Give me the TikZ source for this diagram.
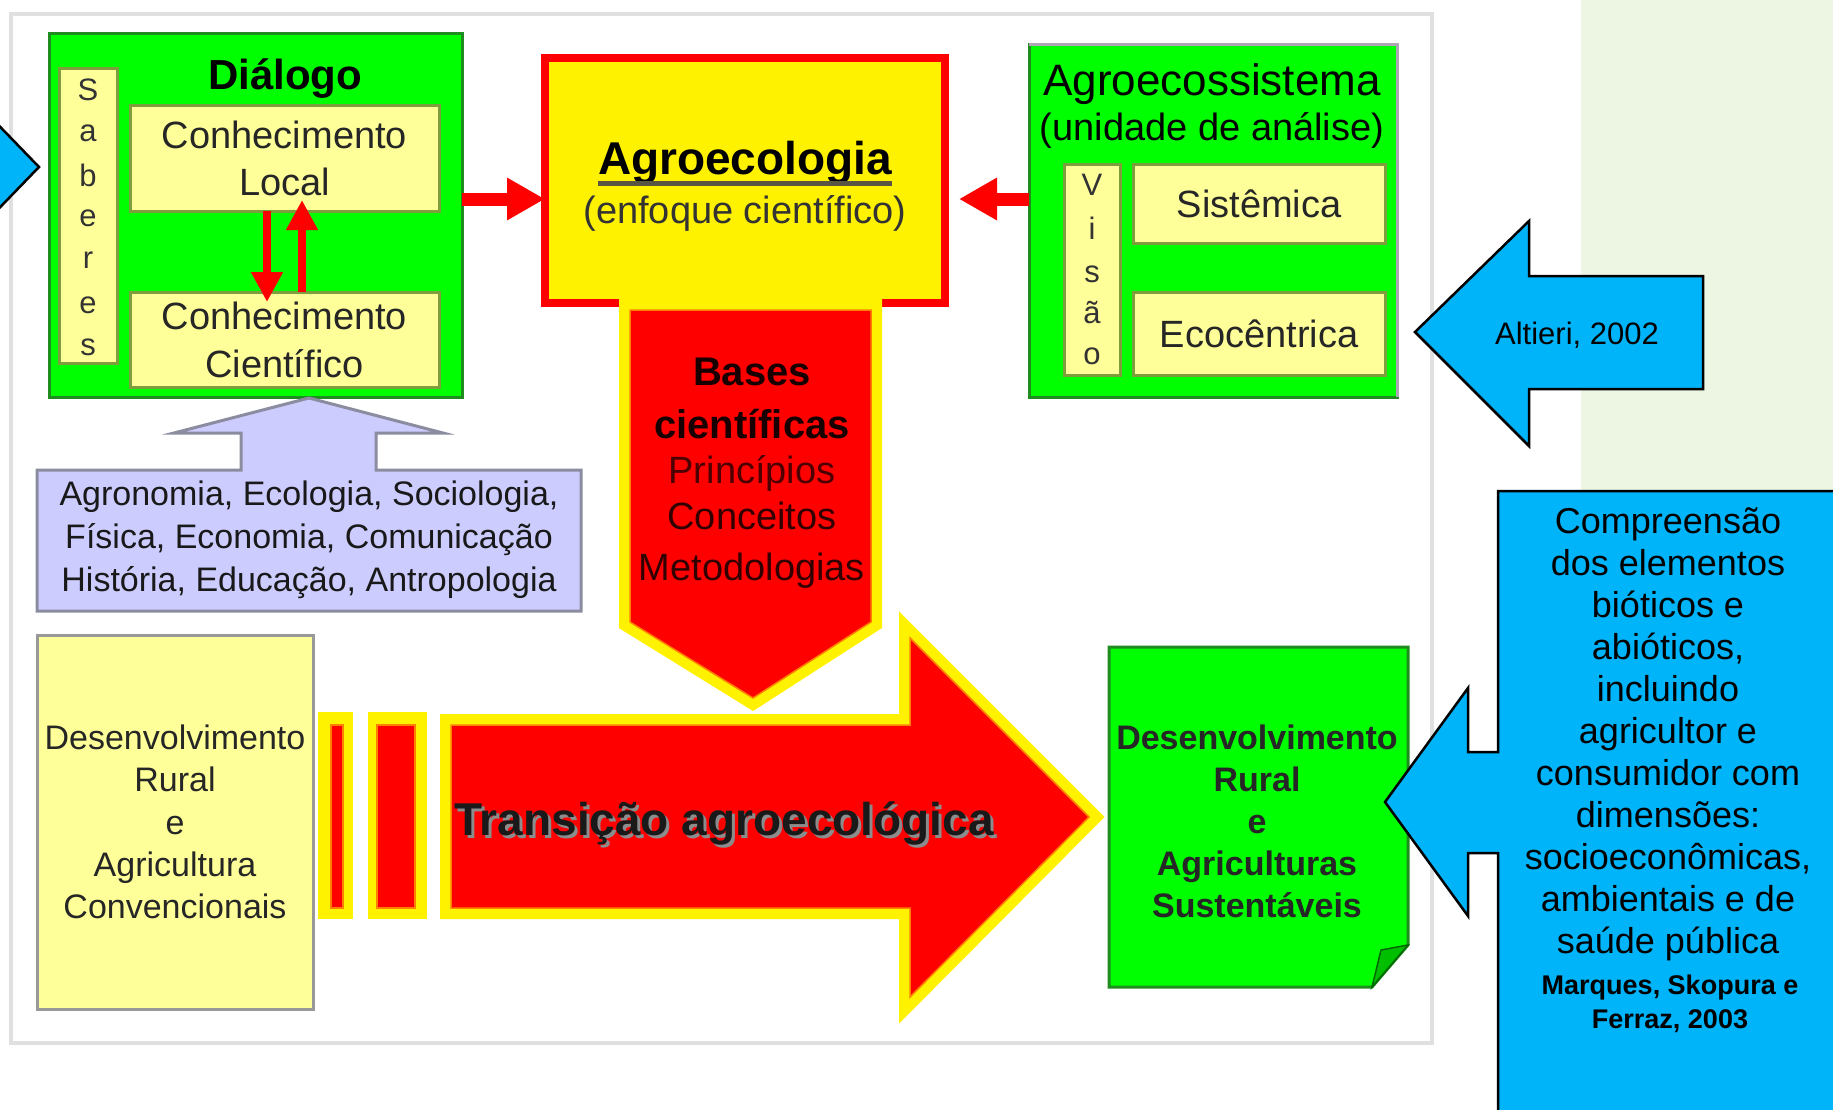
\documentclass[tikz,border=0pt]{standalone}
\usepackage{fontspec}
\setmainfont{Liberation Sans}
\usetikzlibrary{arrows.meta,calc}
\newcommand\fsz[2]{\fontsize{#1}{#2}\selectfont}
\definecolor{gfill}{HTML}{00FF00}
\definecolor{gline}{HTML}{1E8C1E}
\definecolor{lyel}{HTML}{FFFF99}
\definecolor{oline}{HTML}{7E9E3E}
\definecolor{lav}{HTML}{CCCCFF}
\definecolor{lavline}{HTML}{8C8CA0}
\definecolor{cblue}{RGB}{0,180,250}
\definecolor{bggreen}{HTML}{EDF6E2}
\definecolor{orline}{HTML}{FF8000}
\definecolor{ecoline}{HTML}{ADA5B5}
\begin{document}
\begin{tikzpicture}[x=1pt,y=-1pt,
  txt/.style={inner sep=0pt, outer sep=0pt, align=center, text=black},
  ybox/.style={rectangle, fill=lyel, draw=oline, line width=3pt, inner sep=0pt, outer sep=0pt, align=center, text=black!85},
  letter/.style={inner sep=0pt, outer sep=0pt, font=\fsz{31}{31}, text=black!80},
  redarrow/.style={draw=red, line width=8pt, -{Triangle[width=30pt,length=30pt]}},
  redbig/.style={draw=red, line width=13pt, -{Triangle[width=40pt,length=38pt]}},
  bluearrow/.style={fill=cblue, draw=black, line width=2.5pt, line join=miter},
  yelframe/.style={fill=yellow, draw=yellow, line width=22pt, line join=miter},
  redbody/.style={fill=red, draw=orline, line width=1.5pt}]
\useasboundingbox (0,0) rectangle (1833,1109);
\fill[white] (0,0) rectangle (1833,1109);
\fill[bggreen] (1581,0) rectangle (1833,1109);
\draw[draw=black!12, line width=4pt] (11,14) rectangle (1432,1043);

% left blue arrow tip
\draw[bluearrow] (-20,106) -- (39,167) -- (-20,228) -- cycle;

% Dialogo
\node[rectangle, fill=gfill, draw=gline, line width=3pt, minimum width=413pt, minimum height=364pt, outer sep=0pt] (dlg) at (255.5,215) {};
\node[txt, font={\bfseries\fsz{42}{42}}, anchor=base] (dlgt) at (285,89) {Diálogo};
\node[ybox, minimum width=58pt, minimum height=295pt] (sab) at (88,215.5) {};
\foreach \ch/\yy [count=\i] in {S/90, a/133, b/175, e/218, r/260, e/305, s/347}
  \node[letter] (sab\i) at (88,\yy) {\ch};
\node[ybox, minimum width=309pt, minimum height=106pt, font=\fsz{38}{47}] (cl) at (284.5,158) {Conhecimento\\Local};
\node[ybox, minimum width=309pt, minimum height=95pt, font=\fsz{38}{48}] (cc) at (284.5,339.5) {Conhecimento\\Científico};
\draw[redarrow] ($(cl.south)+(-17.5,0)$) -- ($(cc.north)+(-17.5,10)$);
\draw[redarrow] ($(cc.north)+(17.5,0)$) -- ($(cl.south)+(17.5,-11)$);

% Agroecologia
\node[rectangle, fill=yellow, draw=red, line width=8pt, minimum width=400pt, minimum height=245pt, outer sep=0pt] (agro) at (745,180.5) {};
\node[txt, font={\bfseries\fsz{46}{46}}, anchor=base] (agrot) at (745,174) {Agroecologia};
\draw[line width=5pt, draw=black!75!yellow] ($(agrot.base west)+(0,9)$) -- ($(agrot.base east)+(0,9)$);
\node[txt, font=\fsz{38}{38}, anchor=base, text=black!80] (agros) at (745,223) {(enfoque científico)};

\coordinate (ay) at (0,199);
\draw[redbig] (dlg.east |- ay) -- (agro.west |- ay);

% Agroecossistema
\node[rectangle, fill=gfill, draw=gline, line width=3pt, minimum width=368pt, minimum height=353pt, outer sep=0pt] (eco) at (1213,220.5) {};
\draw[draw=ecoline, line width=3pt] (eco.north west) -- (eco.north east) -- (eco.south east);
\node[txt, font=\fsz{44}{44}, anchor=base] (ecot) at (1212,95) {Agroecossistema};
\node[txt, font=\fsz{38}{38}, anchor=base] (ecos) at (1212,140) {(unidade de análise)};
\node[ybox, minimum width=56pt, minimum height=211pt] (vis) at (1092,269.5) {};
\foreach \ch/\yy [count=\i] in {V/185, i/228, s/274, ã/313, o/356}
  \node[letter] (vis\i) at (1092,\yy) {\ch};
\node[ybox, minimum width=252pt, minimum height=79pt, font=\fsz{38}{38}] (sis) at (1259,203.5) {Sistêmica};
\node[ybox, minimum width=252pt, minimum height=83pt, font=\fsz{38}{38}] (ecc) at (1259,333.5) {Ecocêntrica};
\draw[redbig] (eco.west |- ay) -- ($(agro.east |- ay)+(14,0)$);

% Bases cientificas (down arrow)
\path[yelframe] (630,310) -- (871,310) -- (871,622) -- (753,698) -- (630,622) -- cycle;
\path[redbody] (630,310) -- (871,310) -- (871,622) -- (753,698) -- (630,622) -- cycle;
\node[txt, font={\bfseries\fsz{40}{40}}, anchor=base, text=black!90!red] (bas1) at (752,385) {Bases};
\node[txt, font={\bfseries\fsz{40}{40}}, anchor=base, text=black!90!red] (bas2) at (752,438) {científicas};
\node[txt, font=\fsz{38}{38}, anchor=base, text=red!30!black] (bas3) at (752,483) {Princípios};
\node[txt, font=\fsz{38}{38}, anchor=base, text=red!20!black] (bas4) at (752,529) {Conceitos};
\node[txt, font=\fsz{38}{38}, anchor=base, text=red!20!black] (bas5) at (752,580) {Metodologias};

% lavender up arrow with disciplines
\draw[fill=lav, draw=lavline, line width=3pt, line join=miter] (37,470) -- (241,470) -- (241,433) -- (174,433) -- (309,398) -- (443,433) -- (376,433) -- (376,470) -- (581,470) -- (581,611) -- (37,611) -- cycle;
\node[txt, font=\fsz{34}{43}, anchor=north, text=black!90] (disc) at (309,481) {Agronomia, Ecologia, Sociologia,\\Física, Economia, Comunicação\\História, Educação, Antropologia};

% conventional box
\node[rectangle, fill=lyel, draw=black!40, line width=3pt, minimum width=276pt, minimum height=374pt, outer sep=0pt, inner sep=0pt, font=\fsz{34}{42.3}, align=center, text=black!85] (conv) at (175,822) {Desenvolvimento\\Rural\\e\\Agricultura\\Convencionais};

% bars
\fill[yellow] (318,712) rectangle (353,919);
\path[redbody] (331,725) rectangle (343,908);
\fill[yellow] (368,712) rectangle (427,919);
\path[redbody] (377,725) rectangle (415,908);

% big transition arrow
\path[yelframe] (451,725) -- (910,725) -- (910,638) -- (1089,817) -- (910,997) -- (910,908) -- (451,908) -- cycle;
\path[redbody] (451,725) -- (910,725) -- (910,638) -- (1089,817) -- (910,997) -- (910,908) -- (451,908) -- cycle;
\node[txt, font={\bfseries\fsz{46}{46}}, anchor=base, text=black!45] (transsh) at (727,838) {Transição agroecológica};
\node[txt, font={\bfseries\fsz{46}{46}}, anchor=base, text=black!90] (trans) at (724,835) {Transição agroecológica};

% sustainable box
\draw[fill=gfill, draw=gline, line width=3pt, line join=miter] (1109,647) -- (1408,647) -- (1408,945) -- (1372,987) -- (1109,987) -- cycle;
\draw[fill=green!75!black, draw=green!40!black, line width=1.5pt] (1372,987) -- (1381,950) -- (1408,945) -- cycle;
\node[txt, font={\bfseries\fsz{34}{42}}, anchor=north, text=black!85] (sust) at (1257,725) {Desenvolvimento\\Rural\\e\\Agriculturas\\Sustentáveis};

% Altieri arrow
\draw[bluearrow] (1415,332) -- (1529,221) -- (1529,276) -- (1703,276) -- (1703,389) -- (1529,389) -- (1529,446) -- cycle;
\node[txt, font=\fsz{31}{31}, anchor=base] (alt) at (1577,344) {Altieri, 2002};

% big callout
\draw[bluearrow] (1498,853) -- (1468,853) -- (1468,916) -- (1385,802) -- (1468,688) -- (1468,752) -- (1498,752) -- (1498,491) -- (1850,491) -- (1850,1130) -- (1498,1130) -- cycle;
\node[txt, font=\fsz{36}{42}, anchor=north] (comp) at (1668,508) {Compreensão\\dos elementos\\bióticos e\\abióticos,\\incluindo\\agricultor e\\consumidor com\\dimensões:\\socioeconômicas,\\ambientais e de\\saúde pública};
\node[txt, font={\bfseries\fsz{27}{34}}, anchor=north] (marq) at (1670,975) {Marques, Skopura e\\Ferraz, 2003};
\end{tikzpicture}
\end{document}
